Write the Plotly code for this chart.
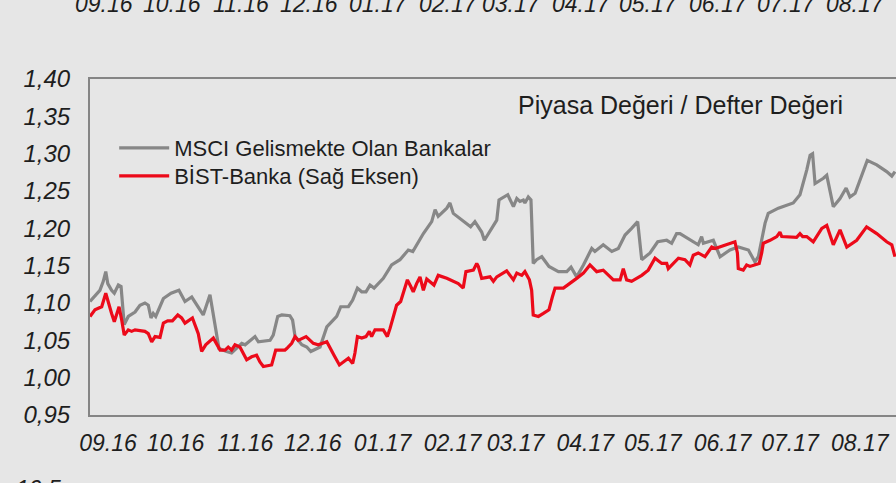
import pandas as pd
import plotly.graph_objects as go

# ---- data ----
start_date = "2016-08-24"          # first observation
# days since start_date, and P/B values
gray_days = [0, 4.4, 5.9, 7.0, 7.9, 9.6, 10.8, 12.6, 13.8, 15.2, 17.0, 20.0, 22.2, 24.4, 25.9, 27.1, 28.1, 29.2,
             32.6, 36.0, 39.5, 42.2, 45.2, 48.4, 50.3, 53.3, 55.8, 57.3, 60.7, 62.9, 67.4, 68.9, 73.3, 74.8,
             80.0, 81.4, 83.4, 85.2, 88.8, 90.0, 91.1, 94.1, 96.3, 98.1, 102.2, 103.7, 105.2, 109.6, 111.4,
             114.8, 116.7, 118.8, 120.7, 122.6, 124.4, 126.2, 130.3, 134.0, 137.7, 141.4, 143.4, 148.1, 151.8,
             153.3, 154.7, 158.5, 159.9, 161.4, 165.5, 169.1, 171.0, 174.0, 175.2, 179.2, 180.7, 181.7, 185.6,
             188.1, 189.6, 191.0, 192.5, 193.2, 194.7, 195.9, 196.9, 198.4, 200.7, 203.9, 208.1, 211.8, 213.7,
             216.2, 219.2, 222.9, 224.3, 228.0, 231.8, 234.7, 237.7, 240.6, 243.3, 245.1, 248.8, 252.2, 256.2,
             258.4, 260.6, 262.1, 268.0, 270.2, 271.7, 272.5, 276.9, 279.9, 284.3, 288.0, 292.5, 295.4, 296.9,
             299.9, 301.3, 305.8, 312.4, 315.4, 318.4, 319.9, 321.0, 322.1, 325.8, 327.3, 330.2, 333.2, 335.9,
             337.6, 339.9, 343.5, 345.3, 349.5, 353.9, 356.2, 357.6]
gray_vals = [1.102, 1.117, 1.129, 1.142, 1.126, 1.117, 1.113, 1.124, 1.122, 1.071, 1.082, 1.088, 1.097, 1.100,
             1.097, 1.080, 1.086, 1.082, 1.106, 1.113, 1.117, 1.102, 1.108, 1.093, 1.084, 1.111, 1.064, 1.039,
             1.035, 1.033, 1.046, 1.044, 1.055, 1.048, 1.050, 1.057, 1.082, 1.084, 1.083, 1.077, 1.055, 1.044,
             1.041, 1.035, 1.041, 1.055, 1.068, 1.082, 1.095, 1.095, 1.104, 1.120, 1.115, 1.115, 1.124, 1.120,
             1.133, 1.151, 1.158, 1.171, 1.169, 1.193, 1.209, 1.225, 1.216, 1.227, 1.234, 1.220, 1.211, 1.202,
             1.209, 1.195, 1.184, 1.204, 1.211, 1.238, 1.245, 1.229, 1.240, 1.236, 1.238, 1.234, 1.242, 1.238,
             1.153, 1.158, 1.162, 1.149, 1.142, 1.142, 1.148, 1.135, 1.151, 1.173, 1.169, 1.178, 1.169, 1.173,
             1.191, 1.200, 1.209, 1.158, 1.167, 1.182, 1.184, 1.180, 1.193, 1.193, 1.182, 1.178, 1.189, 1.180,
             1.184, 1.162, 1.171, 1.175, 1.171, 1.155, 1.162, 1.207, 1.220, 1.227, 1.234, 1.245, 1.278, 1.298,
             1.300, 1.260, 1.267, 1.271, 1.229, 1.240, 1.254, 1.242, 1.247, 1.278, 1.291, 1.285, 1.276, 1.270,
             1.276]

red_days = [0, 2.2, 3.7, 5.2, 7.0, 8.4, 9.6, 10.8, 11.9, 12.9, 14.1, 15.2, 17.0, 18.5, 20.0, 24.4, 25.9, 27.4,
            28.9, 31.1, 32.6, 34.5, 36.6, 39.0, 40.7, 42.2, 45.5, 46.6, 48.1, 49.6, 51.4, 54.8, 56.3, 57.8,
            60.0, 61.4, 62.9, 64.4, 66.6, 68.1, 69.6, 71.8, 74.0, 75.5, 77.0, 80.7, 82.5, 86.6, 87.4, 89.6,
            91.1, 92.5, 96.0, 99.2, 101.4, 105.2, 106.6, 108.4, 110.8, 112.5, 114.8, 116.7, 117.7, 118.8, 120.7,
            122.6, 124.1, 125.1, 126.6, 130.3, 132.1, 133.3, 134.7, 136.2, 138.0, 139.9, 141.0, 142.5, 143.6,
            145.1, 146.6, 148.1, 149.6, 152.8, 154.7, 158.5, 161.4, 163.6, 165.8, 167.0, 170.3, 171.8, 172.5,
            174.0, 177.7, 179.2, 180.7, 185.1, 188.1, 189.6, 191.8, 193.2, 195.2, 196.2, 196.9, 199.2, 201.4,
            203.9, 205.4, 206.6, 210.3, 213.2, 216.2, 219.2, 222.1, 225.1, 228.0, 232.5, 235.5, 236.9, 238.4,
            240.6, 245.1, 248.0, 251.0, 254.0, 256.2, 256.9, 259.9, 261.4, 264.3, 266.5, 268.0, 270.2, 273.2,
            276.2, 277.7, 282.9, 286.5, 287.6, 288.0, 290.2, 291.7, 293.2, 297.3, 298.4, 299.1, 302.1, 305.1,
            306.5, 307.3, 313.9, 315.4, 316.6, 318.4, 321.3, 325.1, 327.3, 330.2, 333.2, 336.2, 340.6, 345.0,
            349.5, 353.9, 356.2, 357.6]
red_vals = [1.082, 1.091, 1.093, 1.095, 1.113, 1.097, 1.086, 1.075, 1.086, 1.095, 1.077, 1.057, 1.064, 1.062,
            1.064, 1.062, 1.059, 1.048, 1.055, 1.054, 1.073, 1.076, 1.076, 1.084, 1.080, 1.073, 1.080, 1.071,
            1.059, 1.035, 1.044, 1.053, 1.046, 1.037, 1.037, 1.041, 1.037, 1.044, 1.041, 1.033, 1.024, 1.028,
            1.030, 1.021, 1.015, 1.017, 1.037, 1.037, 1.039, 1.046, 1.055, 1.050, 1.055, 1.046, 1.044, 1.048,
            1.041, 1.030, 1.017, 1.021, 1.026, 1.019, 1.033, 1.055, 1.053, 1.055, 1.062, 1.055, 1.064, 1.064,
            1.055, 1.066, 1.080, 1.097, 1.102, 1.122, 1.131, 1.122, 1.115, 1.126, 1.135, 1.117, 1.132, 1.124,
            1.137, 1.133, 1.129, 1.126, 1.120, 1.142, 1.144, 1.153, 1.149, 1.133, 1.135, 1.129, 1.135, 1.143,
            1.131, 1.140, 1.137, 1.142, 1.131, 1.117, 1.084, 1.082, 1.086, 1.091, 1.108, 1.120, 1.120, 1.126,
            1.133, 1.140, 1.151, 1.142, 1.144, 1.131, 1.131, 1.146, 1.131, 1.129, 1.137, 1.144, 1.160, 1.153,
            1.153, 1.146, 1.155, 1.160, 1.158, 1.151, 1.164, 1.167, 1.162, 1.175, 1.173, 1.178, 1.182, 1.167,
            1.146, 1.144, 1.151, 1.149, 1.153, 1.167, 1.180, 1.184, 1.189, 1.195, 1.189, 1.188, 1.193, 1.189,
            1.189, 1.182, 1.200, 1.204, 1.178, 1.198, 1.175, 1.184, 1.202, 1.193, 1.182, 1.178, 1.162]

gray_name = "MSCI Gelismekte Olan Bankalar"
red_name = "BİST-Banka (Sağ Eksen)"
chart_title = "Piyasa Değeri / Defter Değeri"
y_ticks = [0.95, 1.00, 1.05, 1.10, 1.15, 1.20, 1.25, 1.30, 1.35, 1.40]
month_ticks = ["2016-09-01", "2016-10-01", "2016-11-01", "2016-12-01", "2017-01-01", "2017-02-01",
               "2017-03-01", "2017-04-01", "2017-05-01", "2017-06-01", "2017-07-01", "2017-08-01"]
month_labels = ["09.16", "10.16", "11.16", "12.16", "01.17", "02.17",
                "03.17", "04.17", "05.17", "06.17", "07.17", "08.17"]
cut_label_below = "10,5"
x_end_days = 358.06

# ---- figure ----
t0 = pd.Timestamp(start_date)
gx = t0 + pd.to_timedelta(gray_days, unit="D")
rx = t0 + pd.to_timedelta(red_days, unit="D")

FONT = "Liberation Sans, Arial, sans-serif"
BG = "#e6e6e6"
AX = "#858585"
TXT = "#1e1e1e"

fig = go.Figure()
fig.add_trace(go.Scatter(x=gx, y=gray_vals, mode="lines", name=gray_name, legend="legend",
                         line=dict(color="#878787", width=3.2)))
fig.add_trace(go.Scatter(x=rx, y=red_vals, mode="lines", name=red_name, legend="legend2",
                         line=dict(color="#ec0a1a", width=3.2)))

leg_common = dict(xanchor="left", yanchor="middle", bgcolor="rgba(0,0,0,0)",
                  font=dict(family=FONT, size=22, color=TXT), itemwidth=50)
fig.update_layout(
    width=896, height=483,
    margin=dict(l=90, r=0, t=79, b=68),
    paper_bgcolor=BG, plot_bgcolor=BG,
    separators=",.",
    font=dict(family=FONT, size=22, color=TXT),
    showlegend=True,
    legend=dict(x=0.03, y=(415 - 148) / 336, **leg_common),
    legend2=dict(x=0.03, y=(415 - 176) / 336, **leg_common),
)
fig.update_xaxes(
    type="date",
    range=[t0, t0 + pd.Timedelta(days=x_end_days)],
    tickvals=month_ticks, ticktext=month_labels,
    showgrid=False, zeroline=False,
    showline=True, mirror=True, linecolor=AX, linewidth=2,
    ticks="", ticklabelstandoff=6,
    tickfont=dict(family=FONT, size=23, color=TXT, style="italic"),
)
fig.update_yaxes(
    range=[0.95, 1.40],
    tickvals=y_ticks, tickformat=".2f",
    showgrid=False, zeroline=False,
    showline=True, linecolor=AX, linewidth=2,
    ticks="", ticklabelstandoff=13,
    tickfont=dict(family=FONT, size=24, color=TXT, style="italic"),
)

fig.add_annotation(text=chart_title, xref="paper", yref="paper", x=0.937, y=0.923,
                   xanchor="right", yanchor="middle", showarrow=False,
                   font=dict(family=FONT, size=25, color=TXT))

# tick labels of the neighbouring chart above (cut off at the top edge)
for d, lab in zip(month_ticks, month_labels):
    fig.add_annotation(text=lab, x=d, xref="x", yref="paper", y=1.18, xshift=-4,
                       xanchor="center", yanchor="bottom", showarrow=False,
                       font=dict(family=FONT, size=23, color=TXT, style="italic"))

# tick label of the chart below (cut off at the bottom edge)
fig.add_annotation(text=cut_label_below, xref="paper", yref="paper", x=-0.033, y=-0.176,
                   xanchor="right", yanchor="top", showarrow=False,
                   font=dict(family=FONT, size=23, color=TXT, style="italic"))

fig.write_html("out.html",
               config={"displayModeBar": False},
               post_script="document.body.style.margin='0';document.body.style.background='#e6e6e6';")
